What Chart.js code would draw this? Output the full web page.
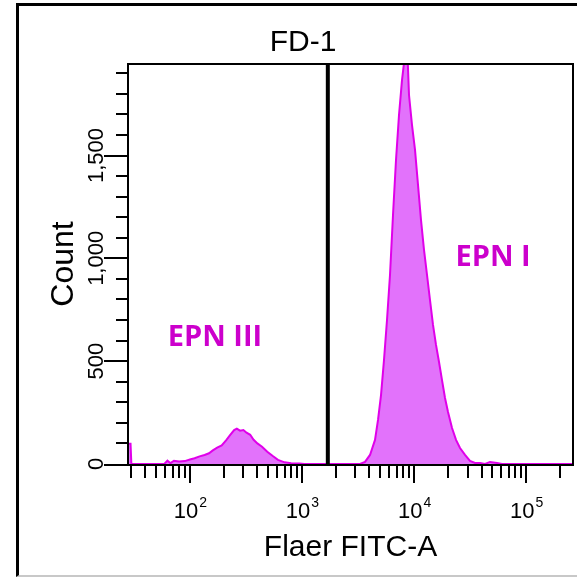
<!DOCTYPE html>
<html>
<head>
<meta charset="utf-8">
<script src="https://cdn.jsdelivr.net/npm/chart.js@4/dist/chart.umd.min.js"></script>
<style>
  html, body { margin: 0; padding: 0; background: #fff; overflow: hidden; }
  #frame {
    position: absolute; left: 16px; top: 3px; width: 700px; height: 569px;
    border-left: 3px solid #000; border-top: 3px solid #000; border-bottom: 2px solid #c8c8c8;
  }
  #wrap { position: absolute; left: 0; top: 0; width: 577px; height: 577px; }
</style>
</head>
<body>
<div id="frame"></div>
<div id="wrap"><canvas id="c" width="577" height="577"></canvas></div>
<script>
// Sample and axis text
const sampleName = 'FD-1';
const xAxisTitle = 'Flaer FITC-A';
const yAxisTitle = 'Count';

// Histogram outline: FITC intensity and event count at each point
const fitcIntensity = [
  28, 29.5, 30, 59, 63, 67, 72, 80, 90, 100, 110, 122, 135, 148, 160, 175, 192, 210,
  228, 248, 262, 280, 300, 320, 345, 370, 400, 440, 490, 545, 610, 700, 800, 950, 1050,
  3294, 3650, 4046, 4483, 4769, 5072, 5394, 5736, 6100, 6489, 6902, 7340, 7808, 8136,
  8305, 8654, 9016, 9590, 10200, 10846, 11538, 12270, 13055, 13880, 14763, 15704,
  16703, 17764, 18893, 20094, 21822, 23694, 25721, 28500, 31580, 34995, 38793, 42983,
  47630, 55020, 60950, 262144
];
const eventCounts = [
  98, 98, 0, 0, 16, 4, 16, 12, 14, 22, 28, 37, 44, 52, 66, 80, 90, 115,
  140, 165, 172, 162, 165, 152, 142, 118, 100, 84, 60, 40, 20, 8, 4, 2, 0,
  0, 10, 44, 117, 214, 335, 506, 700, 919, 1211, 1478, 1697, 1867, 1950,
  2050, 2050, 1794, 1648, 1527, 1357, 1186, 1041, 919, 797, 676, 579,
  496, 408, 321, 253, 175, 117, 78, 44, 15, 5, 5, 0,
  10, 5, 0, 0
];

// Gate boundary on the FITC axis
const gateValue = 1700;

// Axis ranges and labelled ticks
const fitcRange = [28, 262144];
const countMax = 1945;
const countTicks = [0, 500, 1000, 1500];
const decadeValues = [100, 1000, 10000, 100000];
const decadeExponents = ['2', '3', '4', '5'];

// Population names
const populations = ['EPN III', 'EPN I'];

const FONT = 'Liberation Sans';
const labelAnchors = [
  { x: 167, y: 613 },
  { x: 50660, y: 1002 }
];

// Axis box, tick marks, decade labels and population names
const flowAxes = {
  id: 'flowAxes',
  afterDatasetsDraw(chart) {
    const { ctx, chartArea: a, scales: { x, y } } = chart;
    ctx.save();
    ctx.strokeStyle = '#000';
    ctx.lineWidth = 2;
    // plot frame; the bottom edge sits just under the zero-count outline
    ctx.beginPath();
    ctx.moveTo(a.left, a.bottom + 1);
    ctx.lineTo(a.left, a.top);
    ctx.lineTo(a.right, a.top);
    ctx.lineTo(a.right, a.bottom + 1);
    ctx.moveTo(a.left - 1, a.bottom + 1);
    ctx.lineTo(a.right + 1, a.bottom + 1);
    ctx.stroke();

    // count ticks
    for (let v = 0; v <= countMax; v += 100) {
      const py = v === 0 ? a.bottom + 1 : Math.round(y.getPixelForValue(v));
      const len = v % 500 === 0 ? 24 : 12;
      ctx.beginPath();
      ctx.moveTo(a.left - len, py);
      ctx.lineTo(a.left, py);
      ctx.stroke();
    }

    // log ticks on FITC axis
    for (let k = 1; k <= 5; k++) {
      for (let m = 1; m <= 9; m++) {
        const v = m * Math.pow(10, k);
        if (v < fitcRange[0] || v > fitcRange[1]) continue;
        const px = Math.round(x.getPixelForValue(v));
        const len = m === 1 ? 19 : 14;
        ctx.beginPath();
        ctx.moveTo(px, a.bottom + 1);
        ctx.lineTo(px, a.bottom + len);
        ctx.stroke();
      }
    }

    // decade labels 10^n
    ctx.fillStyle = '#000';
    ctx.textBaseline = 'alphabetic';
    ctx.textAlign = 'left';
    decadeValues.forEach((v, i) => {
      const px = x.getPixelForValue(v);
      ctx.font = `22px "${FONT}"`;
      const wBase = ctx.measureText('10').width;
      ctx.font = `14px "${FONT}"`;
      const wExp = ctx.measureText(decadeExponents[i]).width;
      const left = px - (wBase + wExp) / 2;
      ctx.font = `22px "${FONT}"`;
      ctx.fillText('10', left, a.bottom + 54);
      ctx.font = `14px "${FONT}"`;
      ctx.fillText(decadeExponents[i], left + wBase + 1, a.bottom + 43);
    });

    // population names
    ctx.font = 'bold 29px "Open Sans"';
    ctx.fillStyle = '#cc00cc';
    ctx.textAlign = 'center';
    ctx.textBaseline = 'middle';
    populations.forEach((name, i) => {
      ctx.fillText(name, x.getPixelForValue(labelAnchors[i].x), y.getPixelForValue(labelAnchors[i].y));
    });
    ctx.restore();
  }
};

new Chart(document.getElementById('c'), {
  type: 'line',
  data: {
    datasets: [
      {
        label: 'gate',
        data: [{ x: gateValue, y: 0 }, { x: gateValue, y: countMax }],
        borderColor: '#000',
        borderWidth: 4,
        pointRadius: 0,
        fill: false
      },
      {
        label: sampleName,
        data: fitcIntensity.map((v, i) => ({ x: v, y: eventCounts[i] })),
        fill: 'origin',
        backgroundColor: '#e272fb',
        borderColor: '#e000ea',
        borderWidth: 2,
        pointRadius: 0,
        tension: 0
      }
    ]
  },
  options: {
    responsive: false,
    animation: false,
    layout: { padding: { left: 33, right: 4, top: 0, bottom: 0 } },
    plugins: {
      legend: { display: false },
      tooltip: { enabled: false },
      title: {
        display: true,
        text: sampleName,
        color: '#000',
        font: { family: FONT, size: 30, weight: 'normal' },
        padding: { top: 24.5, bottom: 3.5 }
      }
    },
    scales: {
      x: {
        type: 'logarithmic',
        min: fitcRange[0],
        max: fitcRange[1],
        afterFit: s => { s.height = 113; },
        grid: { display: false, drawTicks: false },
        border: { display: false },
        ticks: { display: false },
        title: {
          display: true,
          text: xAxisTitle,
          color: '#000',
          font: { family: FONT, size: 30 },
          padding: { top: 0, bottom: 11.5 }
        }
      },
      y: {
        type: 'linear',
        min: 0,
        max: countMax,
        afterBuildTicks: s => { s.ticks = countTicks.map(v => ({ value: v })); },
        afterFit: s => { s.width = 95; },
        grid: { display: false, drawTicks: false },
        border: { display: false },
        ticks: {
          minRotation: 90,
          maxRotation: 90,
          crossAlign: 'center',
          padding: 4,
          color: '#000',
          font: { family: FONT, size: 22 },
          callback: v => v.toLocaleString('en-US')
        },
        title: {
          display: true,
          text: yAxisTitle,
          color: '#000',
          font: { family: FONT, size: 32 },
          padding: { top: 12, bottom: 0 }
        }
      }
    }
  },
  plugins: [flowAxes]
});
</script>
</body>
</html>
